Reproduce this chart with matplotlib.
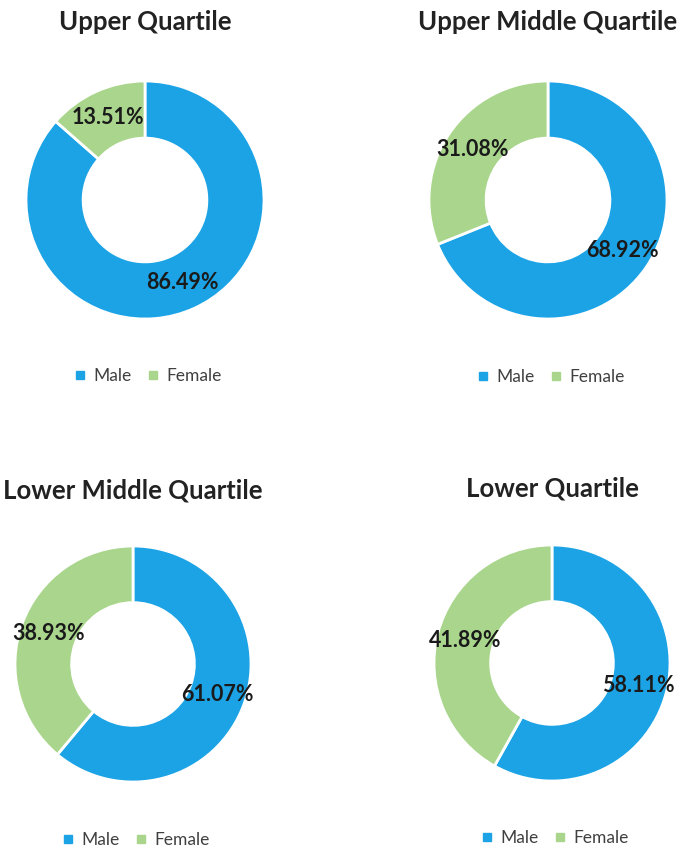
import matplotlib.pyplot as plt
from matplotlib.lines import Line2D

plt.rcParams['font.family'] = ['Lato', 'DejaVu Sans']

titles = ["Upper Quartile", "Upper Middle Quartile", "Lower Middle Quartile", "Lower Quartile"]
labels = ["Male", "Female"]
male = [86.49, 68.92, 61.07, 58.11]
female = [13.51, 31.08, 38.93, 41.89]

colors = ["#1BA3E6", "#A9D68C"]

W, H = 683, 851
# (center x, center y, radius) in pixels, title y, legend y
layout = [
    (145, 200, 119, 22, 376),
    (548, 200, 119, 22, 377),
    (133, 664, 118, 490, 840),
    (552, 663, 118, 488, 838),
]

fig = plt.figure(figsize=(W / 100, H / 100), dpi=100)

for i, (cx, cy, r, ty, ly) in enumerate(layout):
    ax = fig.add_axes([(cx - r) / W, 1 - (cy + r) / H, 2 * r / W, 2 * r / H])
    ax.pie([male[i], female[i]], colors=colors, startangle=90, counterclock=False,
           wedgeprops=dict(width=0.48, edgecolor="white", linewidth=2),
           autopct="%.2f%%", pctdistance=0.76,
           textprops=dict(fontsize=15.5, fontweight="bold", color="#1a1a1a"))
    ax.set_xlim(-1, 1)
    ax.set_ylim(-1, 1)
    ax.set_aspect("equal")
    ax.axis("off")
    fig.text(cx / W, 1 - ty / H, titles[i], ha="center", va="center",
             fontsize=18.5, fontweight="bold", color="#222222")
    handles = [Line2D([], [], marker="s", linestyle="", markersize=6, color=c) for c in colors]
    fig.legend(handles, labels, loc="center", bbox_to_anchor=(cx / W + 0.005, 1 - ly / H),
               ncol=2, frameon=False, fontsize=12.5, handlelength=0.6, handletextpad=0.5,
               columnspacing=0.9, labelcolor="#404040")

fig.savefig("out.png", dpi=100)
